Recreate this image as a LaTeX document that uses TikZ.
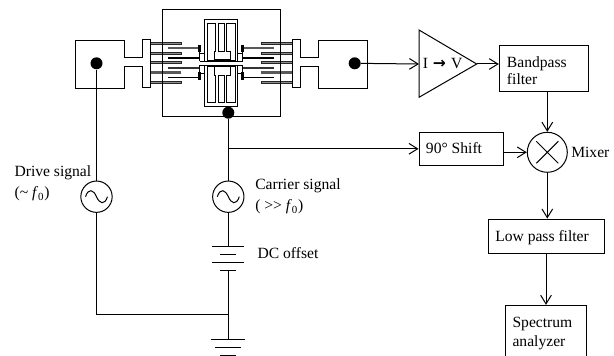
\documentclass[tikz,border=0pt]{standalone}
\usepackage{fontspec}
\setmainfont{Liberation Serif}
\newfontfamily\arrowfont{DejaVu Sans}
\usetikzlibrary{arrows.meta,calc}
\tikzset{
  wire/.style={line width=0.75pt,draw=black},
  arr/.style={wire,-{Straight Barb[length=6.5pt,width=8pt,line width=0.75pt]}},
  box/.style={draw=black,line width=0.75pt,rectangle,inner sep=0pt,fill=white},
  lbl/.style={anchor=base west,inner sep=0pt,font=\fontsize{11.7}{13.5}\selectfont},
  src/.style={draw=black,line width=0.75pt,circle,inner sep=0pt,minimum size=23.5pt,fill=white},
  dot/.style={fill=black,circle,inner sep=0pt,minimum size=9pt},
  mech/.style={line width=0.7pt,draw=black,fill=white,line join=miter},
  finger/.style={line width=0.5pt,draw=black!85,fill=black!45},
  mover/.style={line width=1.4pt},
  plate/.style={line width=0.75pt}
}
\newcommand{\sinewave}[1]{\draw[line width=0.75pt] ($(#1)+(-11,0)$) .. controls ($(#1)+(-8,-9)$) and ($(#1)+(-3,-7)$) .. (#1.center) .. controls ($(#1)+(3,7)$) and ($(#1)+(8,9)$) .. ($(#1)+(11,0)$);}
\begin{document}
\begin{tikzpicture}[x=0.75pt,y=-0.75pt]
\useasboundingbox (0,0) rectangle (614,356);
\clip (0,0) rectangle (614,356);
% electrode pads and combs, mirrored about the device centre
\foreach \s in {1,-1}{
\begin{scope}[shift={(221.2,0)},xscale=\s]
  \foreach \yy in {43.3,52.9,62.7,82.5}{
    \draw[finger] (70.8,\yy-1) rectangle (40,\yy+1);
  }
  \fill[gray!70!black] (70.8,71) rectangle (40,73.6);
  \draw[mover,draw=gray!70!black] (53,47.9) -- (21.5,47.9);
  \draw[mover] (53,57.9) -- (21.5,57.9);
  \draw[mover,draw=gray!40!black] (53,67.8) -- (21.5,67.8);
  \draw[mover] (53,77.5) -- (21.5,77.5);
  \draw[mech] (97,40) -- (146,40) -- (146,88) -- (97,88) -- (97,66.7) -- (79.2,66.7)
     -- (79.2,87.3) -- (70.8,87.3) -- (70.8,39.7) -- (79.2,39.7) -- (79.2,57) -- (97,57) -- cycle;
  \draw[line width=1.9pt] (21.5,45) -- (21.5,52);
  \draw[line width=0.8pt] (21.5,52) -- (21.5,61.5);
  \draw[line width=0.8pt] (21.5,65.5) -- (21.5,72);
  \draw[line width=1.9pt] (21.5,72) -- (21.5,80.5);
  \draw[line width=0.7pt] (21.5,53) -- (17,53) (21.5,61.5) -- (17,61.5)
     (21.5,65.5) -- (17,65.5) (21.5,73) -- (17,73);
\end{scope}}
% proof masses and suspension beams, mirrored top to bottom
\foreach \t in {1,-1}{
\begin{scope}[shift={(220.8,63)},yscale=\t]
  \draw[mech] (-16.5,-43.7) rectangle (16.5,-2);
  \draw[line width=0.7pt] (-13.5,-39.7) -- (-5.1,-39.7) -- (-5.1,-12) -- (-6.5,-12) -- (-6.5,-3.7)
     -- (9.2,-3.7) -- (9.2,-12) -- (5.9,-12) -- (5.9,-39.7) -- (14.9,-39.7) -- (14.9,-3)
     -- (-13.5,-3) -- cycle;
  \draw[line width=0.7pt] (-2.5,-39.7) -- (-2.5,-12) -- (3.5,-12) -- (3.5,-39.7) -- cycle;
\end{scope}}
\draw[line width=0.75pt] (162.3,9.7) rectangle (280,117);
% named terminals
\node[dot] (ld) at (96.5,63.3) {};
\node[dot] (rd) at (354.7,63.3) {};
\node[dot] (bd) at (228.3,112.7) {};
% blocks
\node[box,minimum width=67pt,minimum height=34.5pt] (bp) at (544,68.7) {};
\node[box,minimum width=63.2pt,minimum height=25pt] (ps) at (461.2,149.3) {};
\node[src,minimum size=30pt] (mx) at (547.3,152.3) {};
\node[box,minimum width=87.2pt,minimum height=25.7pt] (lp) at (546.2,236.2) {};
\node[box,minimum width=61pt,minimum height=40pt] (sa) at (546,332) {};
\draw[line width=0.75pt,fill=white] (419,30) coordinate (ta) -- (476.7,64) coordinate (tb) -- (419,97.3) -- cycle;
\coordinate (ti) at (419,64);
\draw[line width=0.75pt] ($(mx)+(-11,-11)$) -- ($(mx)+(11,11)$) ($(mx)+(11,-11)$) -- ($(mx)+(-11,11)$);
% sources
\node[src] (ds) at (96.5,196.7) {};
\node[src] (cs) at (228.3,196.7) {};
\sinewave{ds}
\sinewave{cs}
% battery and ground
\coordinate (b1) at (228.3,246);
\coordinate (b4) at (228.3,270);
\coordinate (j1) at (228.3,148.8);
\coordinate (j2) at (228.3,314.3);
\coordinate (j3) at (96.5,314.3);
\coordinate (g1) at (228.3,339.3);
\draw[plate] ($(b1)+(-16,0)$) -- ($(b1)+(16,0)$);
\draw[plate] ($(b1)+(-8,8)$) -- ($(b1)+(8,8)$);
\draw[plate] ($(b1)+(-16,16)$) -- ($(b1)+(16,16)$);
\draw[plate] ($(b4)+(-8,0)$) -- ($(b4)+(8,0)$);
\draw[plate] ($(g1)+(-17,0)$) -- ($(g1)+(17,0)$);
\draw[plate] ($(g1)+(-13,8)$) -- ($(g1)+(13,8)$);
\draw[plate] ($(g1)+(-8,16)$) -- ($(g1)+(8,16)$);
% wires
\draw[wire] (ld) -- (ds);
\draw[wire] (ds) -- (j3) -- (j2);
\draw[wire] (bd) -- (cs);
\draw[wire] (cs) -- (b1);
\draw[wire] (b4) -- (g1);
\draw[arr] (j1) -- (j1-|ps.west);
\draw[arr] (rd) -- (ti);
\draw[arr] (tb) -- (tb-|bp.west);
\draw[arr] (mx|-bp.south) -- (mx.north);
\draw[arr] (ps.east|-mx) -- (mx.west);
\draw[arr] (mx.south) -- (mx|-lp.north);
\draw[arr] (lp.south-|sa) -- (sa.north);
% labels
\node[lbl] (t1) at (14.3,176) {Drive signal};
\node[lbl] (t2) at (14.3,197.7) {(\textasciitilde{} \textit{f}\textsubscript{0})};
\node[lbl] (t3) at (255,190) {Carrier signal};
\node[lbl] (t4) at (255,210.7) {( >{}> \textit{f}\textsubscript{0})};
\node[lbl] (t5) at (257.3,258) {DC offset};
\node[lbl] (t6) at (571,157.3) {Mixer};
\node[lbl] (t7) at (425.7,154) {90° Shift};
\node[lbl] (t8) at (506.7,67.3) {Bandpass};
\node[lbl] (t9) at (506.7,85) {filter};
\node[lbl] (t10) at (422.7,69) {I\hspace{3.5pt}{\arrowfont\bfseries →}\hspace{4pt}V};
\node[lbl] (t11) at (495,241.7) {Low pass filter};
\node[lbl] (t12) at (512.3,327.3) {Spectrum};
\node[lbl] (t13) at (512.3,346.7) {analyzer};
\end{tikzpicture}
\end{document}
